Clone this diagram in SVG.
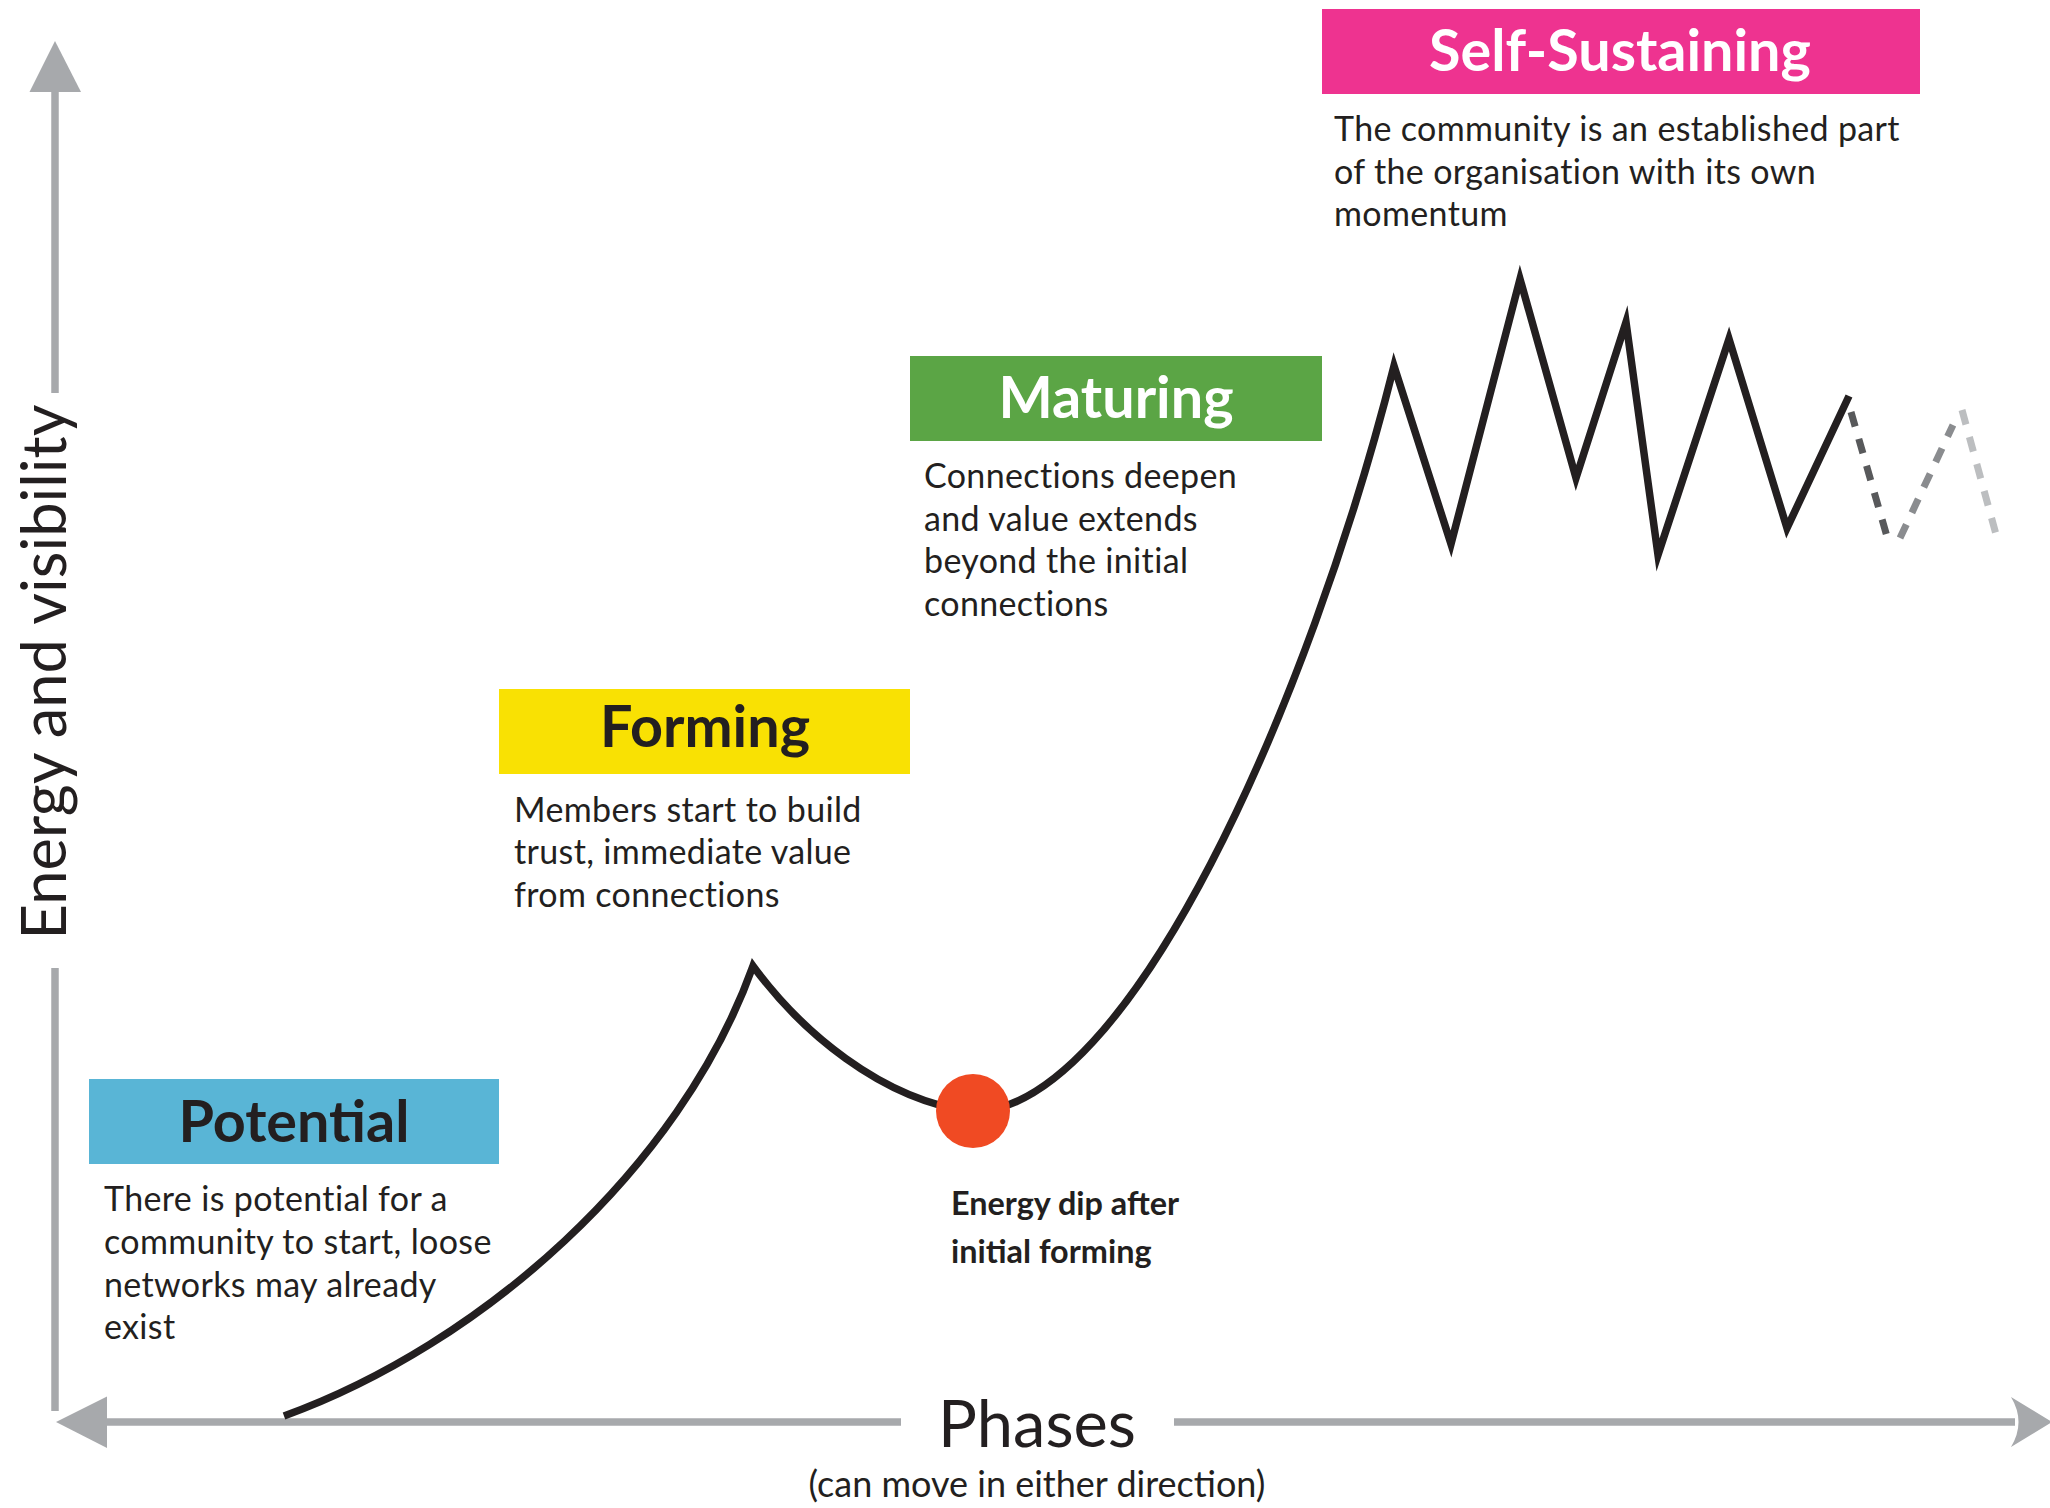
<svg xmlns="http://www.w3.org/2000/svg" width="2050" height="1508" viewBox="0 0 2050 1508">
  <style>
    .axis { stroke: #a7a9ac; stroke-width: 7.5; fill: none; }
    .axis-head { fill: #a7a9ac; }
    .title { font-family: Lato, "Open Sans", sans-serif; font-weight: 700; font-size: 57.5px; text-anchor: middle; }
    .desc { font-family: Lato, "Open Sans", sans-serif; font-size: 34px; letter-spacing: 0.35px; fill: #231f20; }
    .axis-label { font-family: Lato, "Open Sans", sans-serif; fill: #231f20; text-anchor: middle; }
    .note { font-family: Lato, "Open Sans", sans-serif; font-weight: 700; font-size: 32.4px; fill: #231f20; }
    .curve { stroke: #231f20; stroke-width: 7.5; fill: none; stroke-linejoin: miter; stroke-miterlimit: 10; }
    .dash { stroke-width: 7; fill: none; stroke-dasharray: 15 13; }
  </style>

  <!-- axes -->
  <g id="axes">
    <line class="axis" x1="55" y1="90" x2="55" y2="393"/>
    <line class="axis" x1="55" y1="968" x2="55" y2="1411"/>
    <polygon class="axis-head" points="55,41 29.5,92 81,92"/>
    <line class="axis" x1="105" y1="1422" x2="901" y2="1422"/>
    <line class="axis" x1="1174" y1="1422" x2="2015" y2="1422"/>
    <polygon class="axis-head" points="56,1422 107,1396.5 107,1448"/>
    <path class="axis-head" d="M2052 1422 L2011 1397 Q2026 1422 2011 1447 Z"/>
    <text class="axis-label" font-size="61.5" transform="translate(66 672) rotate(-90)">Energy and visibility</text>
    <text class="axis-label" font-size="65" x="1037" y="1447">Phases</text>
    <text class="axis-label" font-size="36" x="1037" y="1497">(can move in either direction)</text>
  </g>

  <!-- energy curve and continuation -->
  <g id="connectors">
    <path class="curve" d="M284 1416 C480 1345 680 1170 753 966 C800 1030 880 1100 973 1112 C1130 1110 1310 700 1394 366 L1451 544 L1520 279 L1576 478 L1626 322 L1658 555 L1729 339 L1787 528 L1849 396"/>
    <path class="dash" stroke="#58595b" d="M1851 412 L1888 540"/>
    <path class="dash" stroke="#8a8c8f" d="M1900 538 L1953 425"/>
    <path class="dash" stroke="#bcbec0" d="M1962 410 L1997 538"/>
  </g>

  <g id="energy-dip">
    <circle cx="973" cy="1111" r="37" fill="#f04a23"/>
    <text class="note" x="951" y="1215">Energy dip after</text>
    <text class="note" x="951" y="1263">initial forming</text>
  </g>

  <g id="potential">
    <rect x="89" y="1079" width="410" height="85" fill="#59b5d6"/>
    <text class="title" x="294" y="1142" fill="#231f20">Potential</text>
    <text class="desc" x="104" y="1211">There is potential for a</text>
    <text class="desc" x="104" y="1254">community to start, loose</text>
    <text class="desc" x="104" y="1297">networks may already</text>
    <text class="desc" x="104" y="1339">exist</text>
  </g>

  <g id="forming">
    <rect x="499" y="689" width="411" height="85" fill="#f9e103"/>
    <text class="title" x="705" y="747" fill="#231f20">Forming</text>
    <text class="desc" x="514" y="822">Members start to build</text>
    <text class="desc" x="514" y="864">trust, immediate value</text>
    <text class="desc" x="514" y="907">from connections</text>
  </g>

  <g id="maturing">
    <rect x="910" y="356" width="412" height="85" fill="#5ba545"/>
    <text class="title" x="1116" y="418" fill="#ffffff">Maturing</text>
    <text class="desc" x="924" y="488">Connections deepen</text>
    <text class="desc" x="924" y="531">and value extends</text>
    <text class="desc" x="924" y="573">beyond the initial</text>
    <text class="desc" x="924" y="616">connections</text>
  </g>

  <g id="self-sustaining">
    <rect x="1322" y="9" width="598" height="85" fill="#ee3390"/>
    <text class="title" x="1620" y="71" fill="#ffffff">Self-Sustaining</text>
    <text class="desc" x="1334" y="141">The community is an established part</text>
    <text class="desc" x="1334" y="184">of the organisation with its own</text>
    <text class="desc" x="1334" y="226">momentum</text>
  </g>
</svg>
